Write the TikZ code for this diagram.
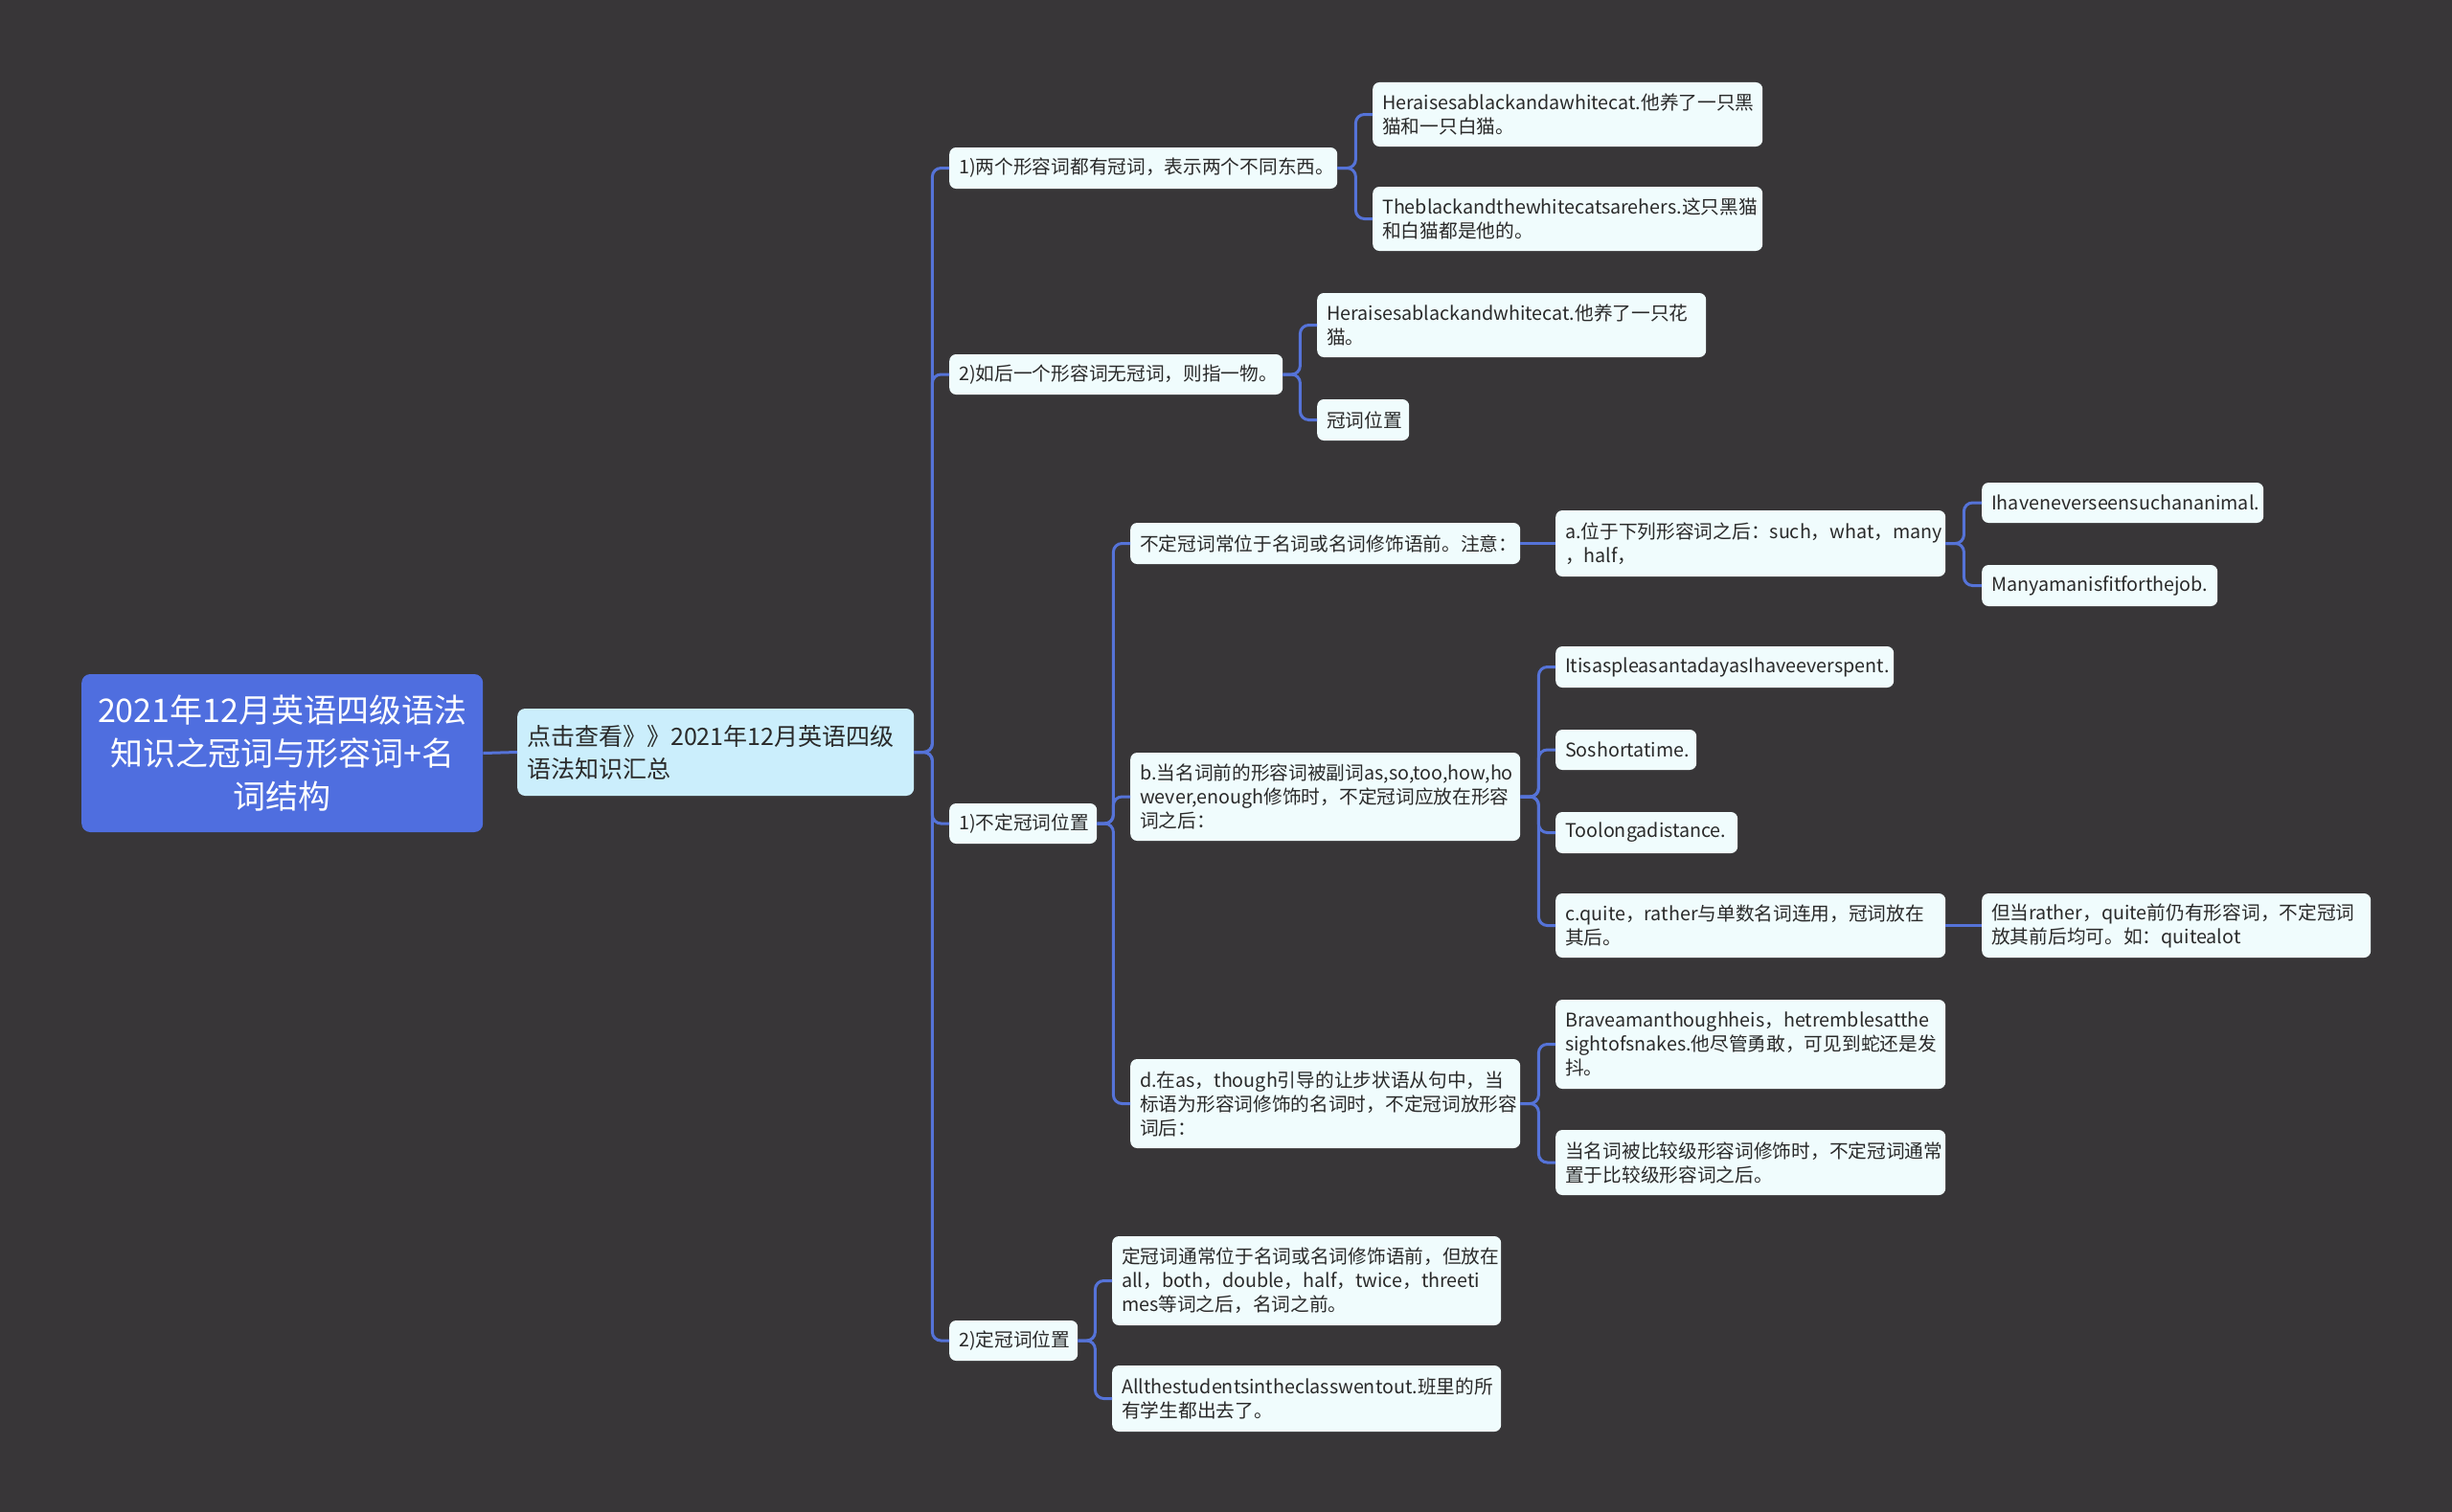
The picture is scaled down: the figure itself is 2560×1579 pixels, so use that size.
\documentclass[tikz,border=0pt]{standalone}
\usepackage{fontspec}
\setmainfont{Noto Sans CJK SC}
\usetikzlibrary{calc}
\definecolor{bgc}{HTML}{383638}
\definecolor{rootc}{HTML}{4F6EDF}
\definecolor{linec}{HTML}{5573D8}
\definecolor{subc}{HTML}{CBEEFC}
\definecolor{leafc}{HTML}{F0FCFD}
\definecolor{txtc}{HTML}{2A2A2A}
\tikzset{
  leaf/.style={fill=leafc, rounded corners=7pt, inner xsep=10pt, inner ysep=3pt, align=left,
    font=\fontsize{19.7}{25}\selectfont, text=txtc, anchor=west},
  rootbox/.style={fill=rootc, rounded corners=9pt, inner xsep=12pt, align=center,
    font=\fontsize{34}{45}\selectfont, text=white, anchor=west},
  subbox/.style={fill=subc, rounded corners=8pt, inner xsep=10pt, align=left,
    font=\fontsize{25}{34}\selectfont, text=txtc, anchor=west},
  conn/.style={draw=linec, line width=3pt, rounded corners=9pt},
}
\begin{document}
\begin{tikzpicture}[x=1pt,y=-1pt]
\fill[bgc] (0,0) rectangle (2560,1579);
\useasboundingbox (0,0) rectangle (2560,1579);

\node[rootbox, text width=395pt, minimum height=165pt] (root) at (85,786.5) {2021年12月英语四级语法\\知识之冠词与形容词+名\\词结构};
\node[subbox, text width=394pt, minimum height=91pt] (n1) at (540,785.5) {点击查看》》2021年12月英语四级\\语法知识汇总};

\node[leaf, text width=385pt, minimum height=43pt] (a1) at (991,175.5) {1)两个形容词都有冠词，表示两个不同东西。};
\node[leaf, text width=328pt, minimum height=42pt] (a2) at (991,391) {2)如后一个形容词无冠词，则指一物。};
\node[leaf, text width=134pt, minimum height=42pt] (a3) at (991,860) {1)不定冠词位置};
\node[leaf, text width=114pt, minimum height=42pt] (a4) at (991,1400) {2)定冠词位置};

\node[leaf, text width=387pt, minimum height=67pt] (a1a) at (1433,119.5) {Heraisesablackandawhitecat.他养了一只黑\\猫和一只白猫。};
\node[leaf, text width=387pt, minimum height=67pt] (a1b) at (1433,228.5) {Theblackandthewhitecatsarehers.这只黑猫\\和白猫都是他的。};

\node[leaf, text width=386pt, minimum height=67pt] (a2a) at (1375,339.5) {Heraisesablackandwhitecat.他养了一只花\\猫。};
\node[leaf, text width=76pt, minimum height=43pt] (a2b) at (1375,438.5) {冠词位置};

\node[leaf, text width=387pt, minimum height=43pt] (b1) at (1180,567.5) {不定冠词常位于名词或名词修饰语前。注意：};
\node[leaf, text width=387pt, minimum height=92pt] (b2) at (1180,832) {b.当名词前的形容词被副词as,so,too,how,ho\\wever,enough修饰时，不定冠词应放在形容\\词之后：};
\node[leaf, text width=387pt, minimum height=93pt] (b3) at (1180,1152.5) {d.在as，though引导的让步状语从句中，当\\标语为形容词修饰的名词时，不定冠词放形容\\词后：};

\node[leaf, text width=387pt, minimum height=69pt] (c1) at (1624,567.5) {a.位于下列形容词之后：such，what，many\\，half，};
\node[leaf, text width=274pt, minimum height=42pt] (d1) at (2069,525) {Ihaveneverseensuchananimal.};
\node[leaf, text width=226pt, minimum height=43pt] (d2) at (2069,611.5) {Manyamanisfitforthejob.};

\node[leaf, text width=333pt, minimum height=43pt] (c2) at (1624,696.5) {ItisaspleasantadayasIhaveeverspent.};
\node[leaf, text width=127pt, minimum height=42pt] (c3) at (1624,783) {Soshortatime.};
\node[leaf, text width=170pt, minimum height=43pt] (c4) at (1624,869.5) {Toolongadistance.};
\node[leaf, text width=387pt, minimum height=67pt] (c5) at (1624,966.5) {c.quite，rather与单数名词连用，冠词放在\\其后。};
\node[leaf, text width=386pt, minimum height=67pt] (d3) at (2069,966.5) {但当rather，quite前仍有形容词，不定冠词\\放其前后均可。如：quitealot};

\node[leaf, text width=387pt, minimum height=93pt] (c6) at (1624,1090.5) {Braveamanthoughheis，hetremblesatthe\\sightofsnakes.他尽管勇敢，可见到蛇还是发\\抖。};
\node[leaf, text width=387pt, minimum height=68pt] (c7) at (1624,1214) {当名词被比较级形容词修饰时，不定冠词通常\\置于比较级形容词之后。};

\node[leaf, text width=386pt, minimum height=93pt] (e1) at (1161,1337.5) {定冠词通常位于名词或名词修饰语前，但放在\\all，both，double，half，twice，threeti\\mes等词之后，名词之前。};
\node[leaf, text width=386pt, minimum height=69pt] (e2) at (1161,1460.5) {Allthestudentsintheclasswentout.班里的所\\有学生都出去了。};

\draw[conn] (root.east) -- (n1.west);
\foreach \c in {a1,a2,a3,a4} \draw[conn] (n1.east) -- ++(19,0) |- (\c.west);
\foreach \c in {a1a,a1b} \draw[conn] (a1.east) -- ++(19,0) |- (\c.west);
\foreach \c in {a2a,a2b} \draw[conn] (a2.east) -- ++(18,0) |- (\c.west);
\foreach \c in {b1,b2,b3} \draw[conn] (a3.east) -- ++(17,0) |- (\c.west);
\draw[conn] (b1.east) -- (c1.west);
\foreach \c in {d1,d2} \draw[conn] (c1.east) -- ++(19,0) |- (\c.west);
\foreach \c in {c2,c3,c4,c5} \draw[conn] (b2.east) -- ++(19,0) |- (\c.west);
\draw[conn] (c5.east) -- (d3.west);
\foreach \c in {c6,c7} \draw[conn] (b3.east) -- ++(19,0) |- (\c.west);
\foreach \c in {e1,e2} \draw[conn] (a4.east) -- ++(18,0) |- (\c.west);
\end{tikzpicture}
\end{document}
